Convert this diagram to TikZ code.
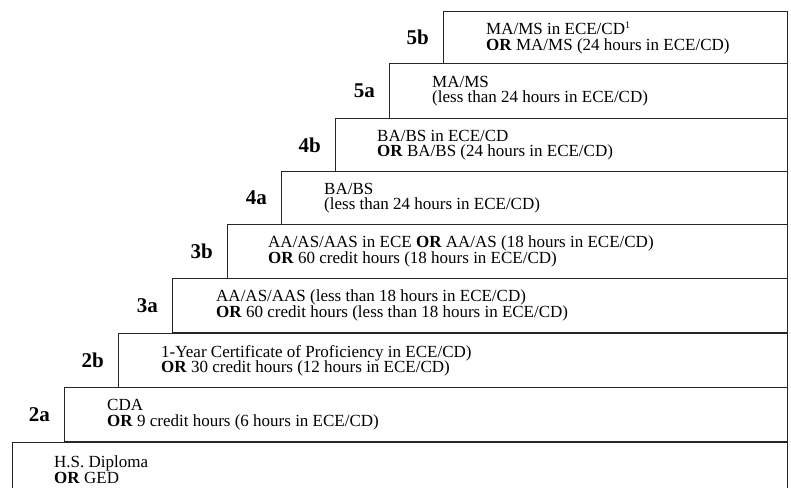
\documentclass[tikz,border=0pt]{standalone}
\usepackage{fontspec}
\setmainfont{Liberation Serif}
\usetikzlibrary{positioning}

\begin{document}
\begin{tikzpicture}[
      x=1pt, y=-1pt,
      stepbox/.style={draw=black!85, line width=1.3pt, anchor=north west,
                      minimum height=#1, inner sep=0pt},
      stepbox/.default=54pt,
      steptext/.style={align=left, inner sep=0pt,
                       font=\fontsize{17}{15.5}\selectfont},
      steplabel/.style={inner sep=0pt, font=\fontsize{21}{24}\selectfont\bfseries}
    ]
      \useasboundingbox (0,0) rectangle (791,487);
      \clip (0,0) rectangle (791,487);

      % the steps, from the bottom up
      \node[stepbox, minimum width=775pt] (hs) at (12,442) {};
      \node[stepbox, minimum width=723pt] (s2a) at (64,387) {};
      \node[stepbox, minimum width=669pt] (s2b) at (118,333) {};
      \node[stepbox, minimum width=615pt] (s3a) at (172,278) {};
      \node[stepbox, minimum width=560pt] (s3b) at (227,224) {};
      \node[stepbox, minimum width=506pt, minimum height=53pt] (s4a) at (281,171) {};
      \node[stepbox, minimum width=452pt, minimum height=53pt] (s4b) at (335,118) {};
      \node[stepbox, minimum width=398pt, minimum height=55pt] (s5a) at (389,63) {};
      \node[stepbox, minimum width=344pt, minimum height=52pt] (s5b) at (443,11) {};

      % texts
      \node[steptext, right=42pt of hs.west] (hs-t) {H.S. Diploma\\\textbf{OR} GED};
      \node[steptext, right=43pt of s2a.west] (s2a-t) {CDA\\\textbf{OR} 9 credit hours (6 hours in ECE/CD)};
      \node[steptext, right=43pt of s2b.west] (s2b-t) {1-Year Certificate of Proficiency in ECE/CD)\\\textbf{OR} 30 credit hours (12 hours in ECE/CD)};
      \node[steptext, right=44pt of s3a.west] (s3a-t) {AA/AS/AAS (less than 18 hours in ECE/CD)\\\textbf{OR} 60 credit hours (less than 18 hours in ECE/CD)};
      \node[steptext, right=41pt of s3b.west] (s3b-t) {AA/AS/AAS in ECE \textbf{OR} AA/AS (18 hours in ECE/CD)\\\textbf{OR} 60 credit hours (18 hours in ECE/CD)};
      \node[steptext, right=43pt of s4a.west] (s4a-t) {BA/BS\\(less than 24 hours in ECE/CD)};
      \node[steptext, right=42pt of s4b.west] (s4b-t) {BA/BS in ECE/CD\\\textbf{OR} BA/BS (24 hours in ECE/CD)};
      \node[steptext, right=43pt of s5a.west] (s5a-t) {MA/MS\\(less than 24 hours in ECE/CD)};
      \node[steptext, right=43pt of s5b.west] (s5b-t) {MA/MS in ECE/CD\textsuperscript{\fontsize{10}{10}\selectfont 1}\\\textbf{OR} MA/MS (24 hours in ECE/CD)};

      % step labels
      \node[steplabel, left=14pt of s2a] (l2a) {2a};
      \node[steplabel, left=14pt of s2b] (l2b) {2b};
      \node[steplabel, left=14pt of s3a] (l3a) {3a};
      \node[steplabel, left=14pt of s3b] (l3b) {3b};
      \node[steplabel, left=14pt of s4a] (l4a) {4a};
      \node[steplabel, left=14pt of s4b] (l4b) {4b};
      \node[steplabel, left=14pt of s5a] (l5a) {5a};
      \node[steplabel, left=14pt of s5b] (l5b) {5b};
    \end{tikzpicture}
\end{document}
